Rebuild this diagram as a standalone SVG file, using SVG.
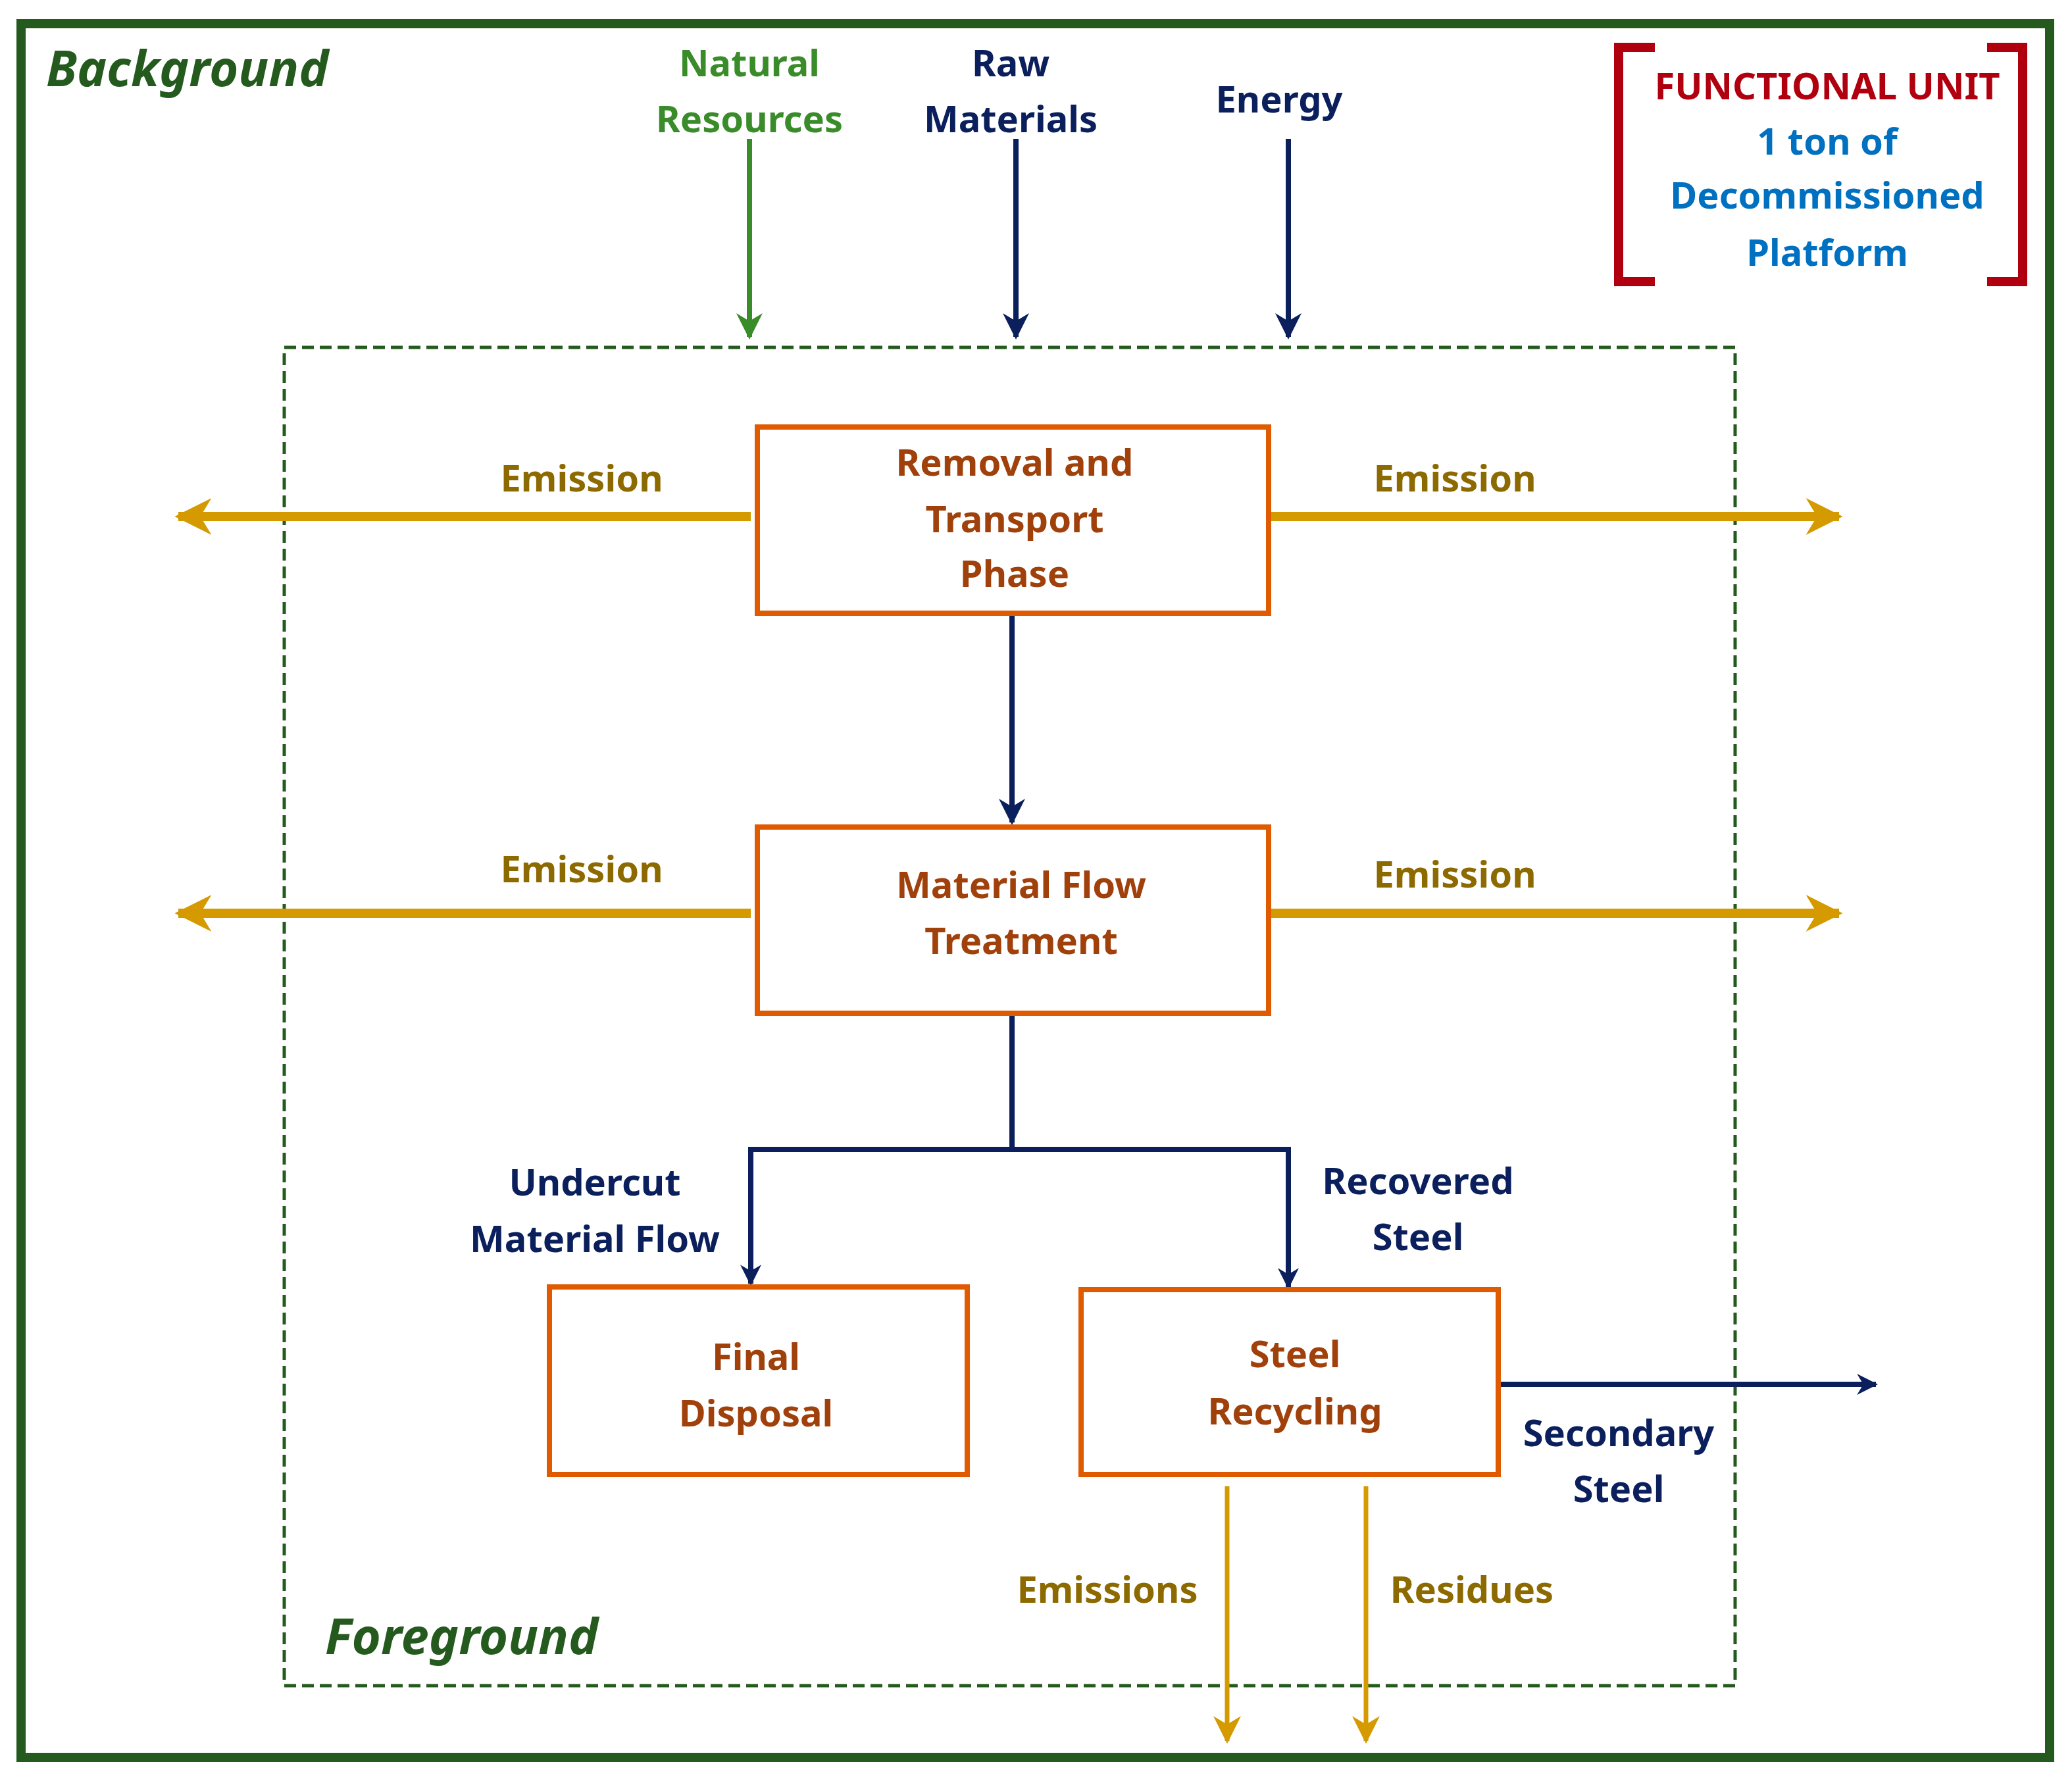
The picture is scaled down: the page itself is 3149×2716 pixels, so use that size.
<svg xmlns="http://www.w3.org/2000/svg" width="3149" height="2716" viewBox="0 0 3149 2716">
<style>
text{font-family:"Noto Sans","Open Sans","Liberation Sans",sans-serif;font-weight:bold;font-size:56px;text-anchor:middle}
.box{fill:#fff;stroke:#E05A00;stroke-width:8}
.bt{fill:#A0400A}
.nv{fill:#0A1F5C}
.em{fill:#8C6A00}
.gold{stroke:#D49A00;stroke-width:14;fill:none}
.navy{stroke:#0A1F5C;stroke-width:8;fill:none}
</style>
<defs>
<marker id="ag" viewBox="0 0 10 10" refX="9" refY="5" markerWidth="4" markerHeight="4" orient="auto-start-reverse" markerUnits="strokeWidth"><path d="M0,0L10,5L0,10L3,5z" fill="#D49A00"/></marker>
<marker id="agt" viewBox="0 0 10 10" refX="9" refY="5" markerWidth="6" markerHeight="6" orient="auto" markerUnits="strokeWidth"><path d="M0,0L10,5L0,10L3,5z" fill="#D49A00"/></marker>
<marker id="an" viewBox="0 0 10 10" refX="9" refY="5" markerWidth="5" markerHeight="5" orient="auto" markerUnits="strokeWidth"><path d="M0,0L10,5L0,10L3,5z" fill="#0A1F5C"/></marker>
<marker id="anb" viewBox="0 0 10 10" refX="9" refY="5" markerWidth="4" markerHeight="4" orient="auto" markerUnits="strokeWidth"><path d="M0,0L10,5L0,10L3,5z" fill="#0A1F5C"/></marker>
<marker id="agr" viewBox="0 0 10 10" refX="9" refY="5" markerWidth="5" markerHeight="5" orient="auto" markerUnits="strokeWidth"><path d="M0,0L10,5L0,10L3,5z" fill="#3A8C2A"/></marker>
</defs>
<rect width="3149" height="2716" fill="#fff"/>
<rect id="background" x="32" y="36" width="3083" height="2635" fill="none" stroke="#245A1E" stroke-width="14"/>
<rect id="foreground" x="432" y="528" width="2205" height="2034" fill="none" stroke="#245A1E" stroke-width="5" stroke-dasharray="18,9"/>
<text x="70" y="131" style="font-style:italic;font-size:76px;text-anchor:start;fill:#245A1E">Background</text>
<text x="494" y="2514" style="font-style:italic;font-size:76px;text-anchor:start;fill:#245A1E">Foreground</text>
<g id="inputs">
<text x="1139" y="116" fill="#3A8C2A">Natural</text><text x="1139" y="201" fill="#3A8C2A">Resources</text>
<text x="1536" y="116" class="nv">Raw</text><text x="1536" y="201" class="nv">Materials</text>
<text x="1944" y="171" class="nv">Energy</text>
</g>
<g id="functional-unit">
<path d="M2515,72H2460V428H2515M3020,72H3074V428H3020" fill="none" stroke="#B00010" stroke-width="14"/>
<text x="2777" y="151" fill="#B00010">FUNCTIONAL UNIT</text>
<text x="2777" y="235" fill="#0070C0">1 ton of</text>
<text x="2777" y="317" fill="#0070C0">Decommissioned</text>
<text x="2777" y="404" fill="#0070C0">Platform</text>
</g>
<g id="connectors">
<line x1="1139" y1="211" x2="1139" y2="512" stroke="#3A8C2A" stroke-width="8" marker-end="url(#agr)"/>
<line x1="1544" y1="211" x2="1544" y2="512" class="navy" marker-end="url(#an)"/>
<line x1="1958" y1="211" x2="1958" y2="512" class="navy" marker-end="url(#an)"/>
<line x1="1141" y1="785" x2="271" y2="785" class="gold" marker-end="url(#ag)"/>
<line x1="1928" y1="785" x2="2795" y2="785" class="gold" marker-end="url(#ag)"/>
<line x1="1141" y1="1388" x2="271" y2="1388" class="gold" marker-end="url(#ag)"/>
<line x1="1928" y1="1388" x2="2795" y2="1388" class="gold" marker-end="url(#ag)"/>
<line x1="1538" y1="932" x2="1538" y2="1250" class="navy" marker-end="url(#an)"/>
<path d="M1538,1540V1747H1141V1951" class="navy" stroke-width="10" marker-end="url(#anb)"/>
<path d="M1538,1747H1958V1956" class="navy" stroke-width="10" marker-end="url(#anb)"/>
<line x1="2277" y1="2104" x2="2851" y2="2104" class="navy" stroke-width="12" marker-end="url(#anb)"/>
<line x1="1865" y1="2259" x2="1865" y2="2646" stroke="#D49A00" stroke-width="7" marker-end="url(#agt)"/>
<line x1="2076" y1="2259" x2="2076" y2="2646" stroke="#D49A00" stroke-width="7" marker-end="url(#agt)"/>
<text x="884" y="747" class="em">Emission</text>
<text x="2211" y="747" class="em">Emission</text>
<text x="884" y="1341" class="em">Emission</text>
<text x="2211" y="1349" class="em">Emission</text>
<text x="904" y="1817" class="nv">Undercut</text><text x="904" y="1903" class="nv">Material Flow</text>
<text x="2155" y="1815" class="nv">Recovered</text><text x="2155" y="1900" class="nv">Steel</text>
<text x="2460" y="2198" class="nv">Secondary</text><text x="2460" y="2283" class="nv">Steel</text>
<text x="1683" y="2436" class="em">Emissions</text>
<text x="2237" y="2436" class="em">Residues</text>
</g>
<g id="removal"><rect x="1151" y="649" width="777" height="283" class="box"/>
<text x="1542" y="723" class="bt">Removal and</text><text x="1542" y="809" class="bt">Transport</text><text x="1542" y="892" class="bt">Phase</text></g>
<g id="treatment"><rect x="1151" y="1257" width="777" height="283" class="box"/>
<text x="1552" y="1365" class="bt">Material Flow</text><text x="1552" y="1450" class="bt">Treatment</text></g>
<g id="disposal"><rect x="835" y="1956" width="635" height="285" class="box"/>
<text x="1149" y="2082" class="bt">Final</text><text x="1149" y="2168" class="bt">Disposal</text></g>
<g id="recycling"><rect x="1643" y="1960" width="634" height="281" class="box"/>
<text x="1968" y="2078" class="bt">Steel</text><text x="1968" y="2165" class="bt">Recycling</text></g>
</svg>
